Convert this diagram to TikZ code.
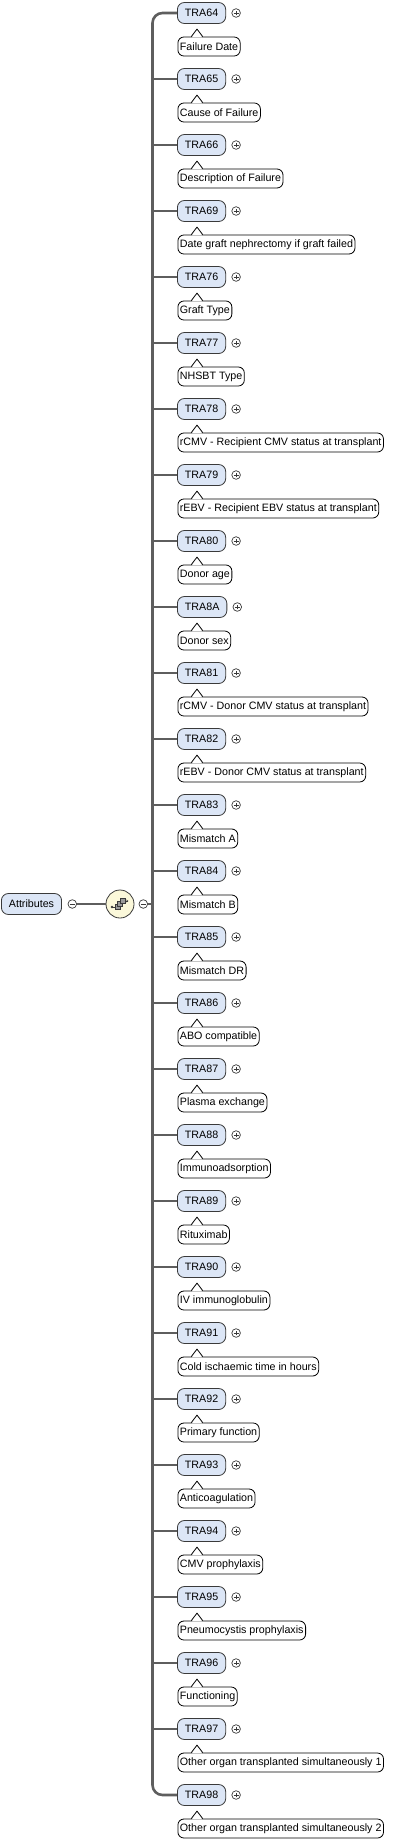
\documentclass[tikz,border=0pt]{standalone}
\usepackage{fontspec}
\setmainfont{Liberation Sans}
\definecolor{elemfill}{HTML}{DCE6F6}
\definecolor{edgec}{HTML}{3A3A3A}
\definecolor{linec}{HTML}{5E5E5E}
\definecolor{seqfill}{HTML}{FBF8DA}
\definecolor{iconfill}{HTML}{9A9A9A}
\begin{document}
\begin{tikzpicture}[x=1pt,y=-1pt,
  font=\fontsize{10.7}{12}\selectfont,
  elem/.style={draw=edgec, fill=elemfill, rounded corners=7pt, line width=0.8pt,
    minimum height=21pt, inner xsep=7.5pt, inner ysep=0pt, anchor=west},
  descbox/.style={draw=black, fill=white, rounded corners=6pt, line width=0.8pt,
    minimum height=19pt, inner xsep=2pt, inner ysep=0pt, anchor=west},
  pm/.style={circle, draw=edgec, fill=white, line width=0.7pt, minimum size=8.6pt, inner sep=0pt},
  minus/.style={pm, path picture={\draw[line width=0.6pt]
      ([xshift=-2.4pt]path picture bounding box.center) -- ([xshift=2.4pt]path picture bounding box.center);}},
  plus/.style={pm, path picture={\draw[line width=0.6pt]
      ([xshift=-2.4pt]path picture bounding box.center) -- ([xshift=2.4pt]path picture bounding box.center)
      ([yshift=-2.4pt]path picture bounding box.center) -- ([yshift=2.4pt]path picture bounding box.center);}},
  trunk/.style={draw=linec, line width=2.6pt},
  branch/.style={draw=linec, line width=1.8pt},
  pointer/.style={draw=black, line width=0.8pt, line join=round},
]
\useasboundingbox (0,0) rectangle (406,1842);

% root element and sequence compositor
\node[elem] (attr) at (1,904) {Attributes};
\node[minus] (am) at (72.3,904) {};
\node[circle, draw=edgec, fill=seqfill, line width=0.8pt, minimum size=28pt, inner sep=0pt] (seq) at (120,904) {};
\node[minus] (sm) at (143.3,904) {};
\coordinate (tj) at (152.5,904);
\draw[branch] (am.east) -- (seq.west);
\draw[branch] (sm.east) -- (tj);

% sequence icon
\begin{scope}[shift={(seq.center)}]
  \draw[edgec, line width=0.8pt] (-8,3) -- (-4,3);
  \fill[edgec] (-8,3) circle (1.3pt);
  \draw[edgec, line width=0.8pt] (4,-3) -- (8,-3);
  \fill[edgec] (8.3,-3) -- (6.5,-4.6) -- (6.5,-1.4) -- cycle;
  \draw[edgec, fill=iconfill, line width=0.6pt] (-5,0.5) rectangle (0,5.5);
  \draw[edgec, fill=iconfill, line width=0.6pt] (-2.5,-2.5) rectangle (2.5,2.5);
  \draw[edgec, fill=iconfill, line width=0.6pt] (0,-5.5) rectangle (5,-0.5);
\end{scope}

% children
\foreach \id/\txt [count=\k from 0] in {
  TRA64/Failure Date,
  TRA65/Cause of Failure,
  TRA66/Description of Failure,
  TRA69/Date graft nephrectomy if graft failed,
  TRA76/Graft Type,
  TRA77/NHSBT Type,
  TRA78/rCMV - Recipient CMV status at transplant,
  TRA79/rEBV - Recipient EBV status at transplant,
  TRA80/Donor age,
  TRA8A/Donor sex,
  TRA81/rCMV - Donor CMV status at transplant,
  TRA82/rEBV - Donor CMV status at transplant,
  TRA83/Mismatch A,
  TRA84/Mismatch B,
  TRA85/Mismatch DR,
  TRA86/ABO compatible,
  TRA87/Plasma exchange,
  TRA88/Immunoadsorption,
  TRA89/Rituximab,
  TRA90/IV immunoglobulin,
  TRA91/Cold ischaemic time in hours,
  TRA92/Primary function,
  TRA93/Anticoagulation,
  TRA94/CMV prophylaxis,
  TRA95/Pneumocystis prophylaxis,
  TRA96/Functioning,
  TRA97/Other organ transplanted simultaneously 1,
  TRA98/Other organ transplanted simultaneously 2}
{
  \pgfmathsetmacro{\row}{13+66*\k}
  \node[elem] (e\k) at (177,\row) {\id};
  \node[plus] (p\k) at ([xshift=10pt]e\k.east) {};
  \node[descbox] (d\k) at (177.5,\row+33.5) {\txt};
  \fill[white] ([xshift=14.4pt,yshift=-0.7pt]d\k.north west) -- ([xshift=19.5pt,yshift=7pt]d\k.north west)
     -- ([xshift=24.6pt,yshift=-0.7pt]d\k.north west) -- cycle;
  \draw[pointer] ([xshift=13.8pt]d\k.north west) -- ([xshift=19.5pt,yshift=7.5pt]d\k.north west)
     -- ([xshift=25.2pt]d\k.north west);
}

% trunk and branches
\draw[trunk, rounded corners=10pt] (e0.west) -| (tj) |- (e27.west);
\foreach \k in {1,...,26}{
  \draw[branch] (tj |- e\k.west) -- (e\k.west);
}
\end{tikzpicture}
\end{document}
